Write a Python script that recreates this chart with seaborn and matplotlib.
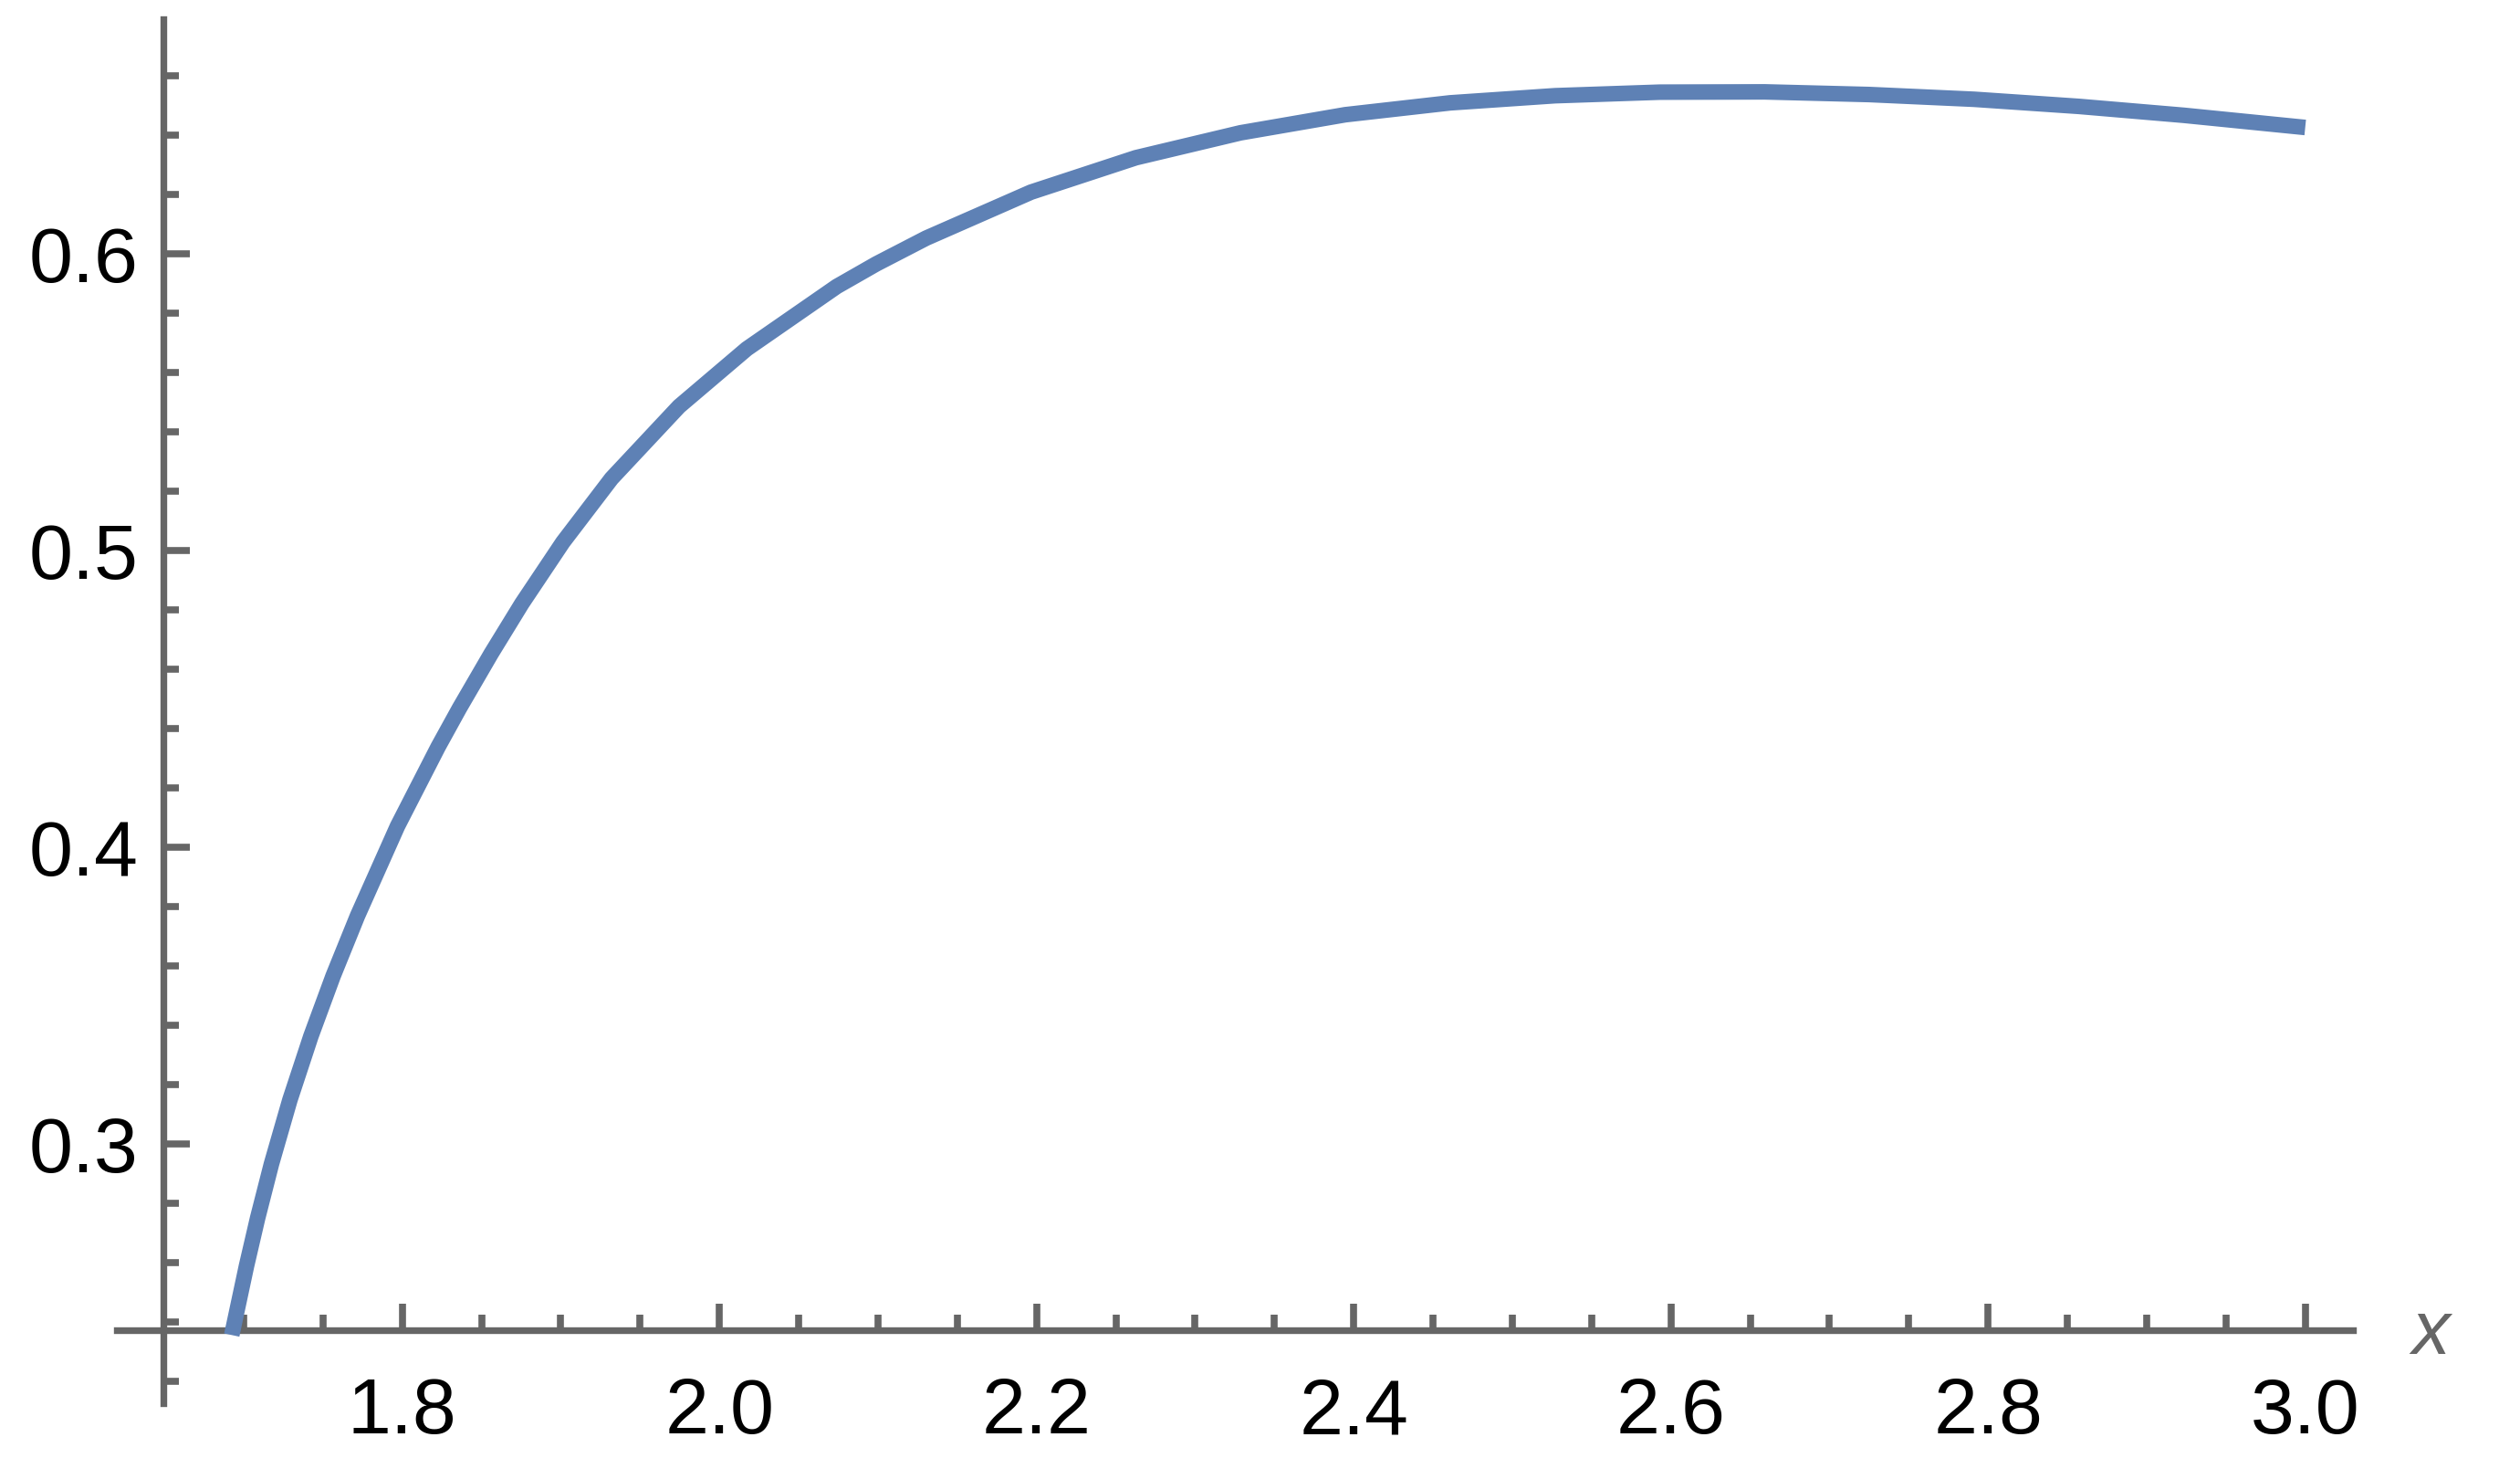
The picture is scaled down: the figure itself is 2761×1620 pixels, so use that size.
import numpy as np
import pandas as pd
import matplotlib
matplotlib.use("Agg")
import matplotlib.pyplot as plt
from matplotlib.ticker import FixedLocator
import seaborn as sns

# ---- data ----
x_vals = [1.6925, 1.7018, 1.7088, 1.7175, 1.7292, 1.7424, 1.7564, 1.7718,
          1.7970, 1.8226, 1.8360, 1.8560, 1.8754, 1.9013, 1.9320, 1.9746,
          2.0173, 2.0740, 2.0989, 2.1304, 2.1965, 2.2626, 2.3286, 2.3947,
          2.4608, 2.5269, 2.5930, 2.6591, 2.7251, 2.7912, 2.8573, 2.9234, 3.0000]
y_vals = [0.2355, 0.2588, 0.2749, 0.2931, 0.3148, 0.3362, 0.3565, 0.3768,
          0.4070, 0.4337, 0.4467, 0.4651, 0.4820, 0.5027, 0.5242, 0.5485,
          0.5679, 0.5889, 0.5965, 0.6052, 0.6207, 0.6323, 0.6407, 0.6468,
          0.6508, 0.6532, 0.6544, 0.6545, 0.6536, 0.6520, 0.6496, 0.6466, 0.6425]
x_major = [1.8, 2.0, 2.2, 2.4, 2.6, 2.8, 3.0]
x_major_labels = ["1.8", "2.0", "2.2", "2.4", "2.6", "2.8", "3.0"]
y_major = [0.3, 0.4, 0.5, 0.6]
y_major_labels = ["0.3", "0.4", "0.5", "0.6"]
axis_label = "x"

df = pd.DataFrame({"x": x_vals, "y": y_vals})

sns.set_style("white")
plt.rcParams["font.family"] = ["Liberation Sans", "DejaVu Sans"]

W, H = 2761, 1620
fig = plt.figure(figsize=(W / 100, H / 100), dpi=100)

xlim = (1.62, 3.03)
ylim = (0.2126, 0.679)
left_px, right_px = 127.95, 2577.8
top_px, bottom_px = 21.0, 1536.75
ax = fig.add_axes([left_px / W, 1 - bottom_px / H,
                   (right_px - left_px) / W, (bottom_px - top_px) / H])

line_color = "#5E81B5"
axis_color = "#666666"

sns.lineplot(data=df, x="x", y="y", ax=ax, color=line_color, linewidth=12.3,
             sort=False, estimator=None, zorder=3)
for ln in ax.lines:
    ln.set_solid_capstyle("butt")
    ln.set_solid_joinstyle("round")

ax.set_xlim(*xlim)
ax.set_ylim(*ylim)

# axes crossing like Mathematica
ax.spines["left"].set_position(("data", 1.6492))
ax.spines["bottom"].set_position(("data", 0.2372))
ax.spines["top"].set_visible(False)
ax.spines["right"].set_visible(False)
for s in ("left", "bottom"):
    ax.spines[s].set_color(axis_color)
    ax.spines[s].set_linewidth(5.3)
    ax.spines[s].set_zorder(2.5)

x_minor = [v for v in np.round(np.arange(1.70, 3.001, 0.05), 2)
           if not np.any(np.isclose(v, x_major))]
y_minor = [v for v in np.round(np.arange(0.22, 0.6701, 0.02), 2)
           if not np.any(np.isclose(v, y_major))]

ax.xaxis.set_major_locator(FixedLocator(x_major))
ax.xaxis.set_minor_locator(FixedLocator(x_minor))
ax.yaxis.set_major_locator(FixedLocator(y_major))
ax.yaxis.set_minor_locator(FixedLocator(y_minor))
ax.set_xticklabels(x_major_labels)
ax.set_yticklabels(y_major_labels)

ax.tick_params(axis="both", which="both", direction="in", color=axis_color,
               width=5.5, labelcolor="black", labelsize=62,
               bottom=True, left=True, top=False, right=False)
ax.tick_params(axis="both", which="major", length=21)
ax.tick_params(axis="both", which="minor", length=12.5)
ax.tick_params(axis="x", which="major", pad=37)
ax.tick_params(axis="y", which="major", pad=19.5)

ax.set_xlabel("")
ax.set_ylabel("")
ax.grid(False)
ax.set_facecolor("white")

fig.text(2663 / W, 1 - 1483 / H, axis_label, ha="center", va="baseline",
         fontsize=60, fontstyle="italic", color=axis_color)

fig.savefig("out.png", dpi=100, facecolor="white")
